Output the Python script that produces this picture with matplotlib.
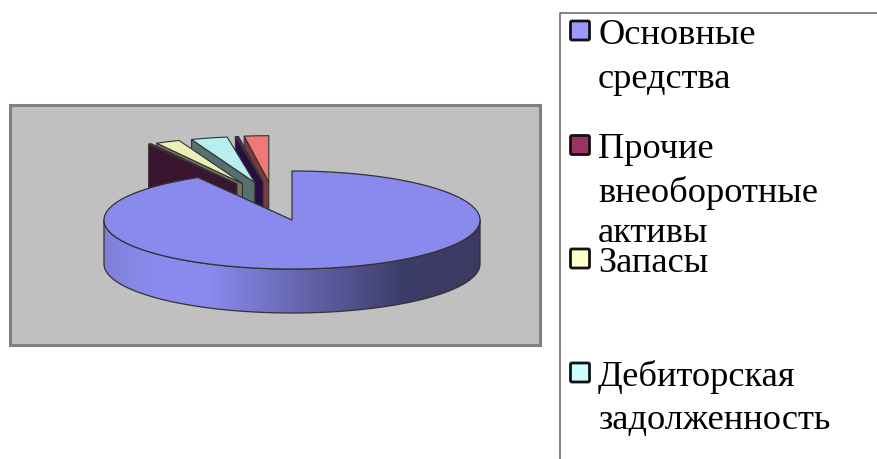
import numpy as np
import matplotlib
matplotlib.use("Agg")
import matplotlib.pyplot as plt
from matplotlib.patches import Polygon, Rectangle, FancyBboxPatch

# share of each item, percent, clockwise from twelve o'clock
values = [91.67, 0.28, 2.22, 3.33, 0.28, 2.22]
legend_names = ["Основные\nсредства", "Прочие\nвнеоборотные\nактивы", "Запасы", "Дебиторская\nзадолженность"]

top_colors = ["#8A8AEE", "#8E3060", "#EEEEBB", "#B8EEEE", "#5A1A80", "#F07878"]
wall_colors = ["#8A8AEE", "#3A1530", "#77775E", "#547070", "#2A0D40", "#783C3C"]
legend_colors = ["#9999FF", "#993366", "#FFFFCC", "#CCFFFF"]

cx, cy = 292, 220
rx, ry = 188, 49
depth = 44
explode = 0.79
slice_scale = 0.94
edge = "#333333"

plt.rcParams["font.family"] = ["Liberation Serif", "DejaVu Serif"]

fig = plt.figure(figsize=(8.77, 4.59), dpi=100)
ax = fig.add_axes([0, 0, 1, 1])
ax.set_xlim(0, 877)
ax.set_ylim(459, 0)
ax.axis("off")


def ellipse_pts(x0, y0, a, b, t):
    return np.column_stack([x0 + a * np.cos(t), y0 - b * np.sin(t)])


# plot area
ax.add_patch(Rectangle((10, 104.5), 530, 240, fc="#C0C0C0", ec="#808080", lw=2.2))

# angles of slice boundaries, running clockwise
bounds = 90 - np.cumsum([0] + values) * 3.6

# exploded slices, drawn right to left so each one overlaps its right neighbour
for i in range(len(values) - 1, 0, -1):
    hi, lo = bounds[i], bounds[i + 1]
    hi_n, lo_n = hi % 360, lo % 360
    mid = (hi_n + lo_n) / 2
    direction = np.radians(104.5 + 0.5 * (mid - 105))
    tip_x = cx + explode * rx * np.cos(direction)
    tip_y = cy - explode * ry * np.sin(direction)
    t = np.radians(np.linspace(hi_n, lo_n, 12))
    arc = ellipse_pts(tip_x, tip_y, rx * slice_scale, ry * slice_scale, t)
    far = arc[np.argmax(t)]
    wall = [far, (tip_x, tip_y), (tip_x, tip_y + depth), (far[0], far[1] + depth)]
    ax.add_patch(Polygon(wall, fc=wall_colors[i], ec=edge, lw=0.8, joinstyle="round"))
    top = np.vstack([[tip_x, tip_y], arc])
    ax.add_patch(Polygon(top, fc=top_colors[i], ec=edge, lw=0.8, joinstyle="round"))

# side wall of the big slice, shaded left to right
t = np.radians(np.linspace(180, 360, 200))
lower = ellipse_pts(cx, cy + depth, rx, ry, t)
upper = ellipse_pts(cx, cy, rx, ry, t)[::-1]
wall_poly = Polygon(np.vstack([lower, upper]), fc="none", ec=edge, lw=0.9, zorder=3)
shade_x = [0.0, 0.12, 0.28, 0.8, 1.0]
shade_r = [0x80, 0x8A, 0x8A, 0x3C, 0x3A]
shade_g = [0x80, 0x8A, 0x8A, 0x3C, 0x3A]
shade_b = [0xD8, 0xEE, 0xEE, 0x68, 0x62]
xs = np.linspace(0, 1, 300)
grad = np.stack([np.interp(xs, shade_x, c) for c in (shade_r, shade_g, shade_b)], axis=-1)[None, :, :] / 255
im = ax.imshow(grad, extent=(cx - rx, cx + rx, cy + depth + ry, cy - ry), aspect="auto", zorder=2)
im.set_clip_path(Polygon(np.vstack([lower, upper]), transform=ax.transData))
ax.add_patch(wall_poly)
ax.set_xlim(0, 877)
ax.set_ylim(459, 0)

# top of the big slice
t = np.radians(np.linspace(bounds[0], bounds[1], 400))
top = np.vstack([[cx, cy], ellipse_pts(cx, cy, rx, ry, t)])
ax.add_patch(Polygon(top, fc=top_colors[0], ec=edge, lw=0.9, zorder=4, joinstyle="round"))

# legend frame, open at the right and bottom
ax.plot([560, 560, 877], [459, 13, 13], color="#6E6E6E", lw=1.2, clip_on=False)

legend_y = [21, 135.5, 249, 363]
line_tops = [[36, 80], [149, 193, 233], [263], [377, 421]]
for i, name in enumerate(legend_names):
    ax.add_patch(FancyBboxPatch((570.5, legend_y[i]), 19, 19, boxstyle="round,pad=0,rounding_size=1.5",
                                fc=legend_colors[i], ec="#111111", lw=2.0))
    for line, y in zip(name.split("\n"), line_tops[i]):
        ax.text(598, y, line, fontsize=26.2, va="center", ha="left", color="black")

fig.savefig("out.png", dpi=100)
